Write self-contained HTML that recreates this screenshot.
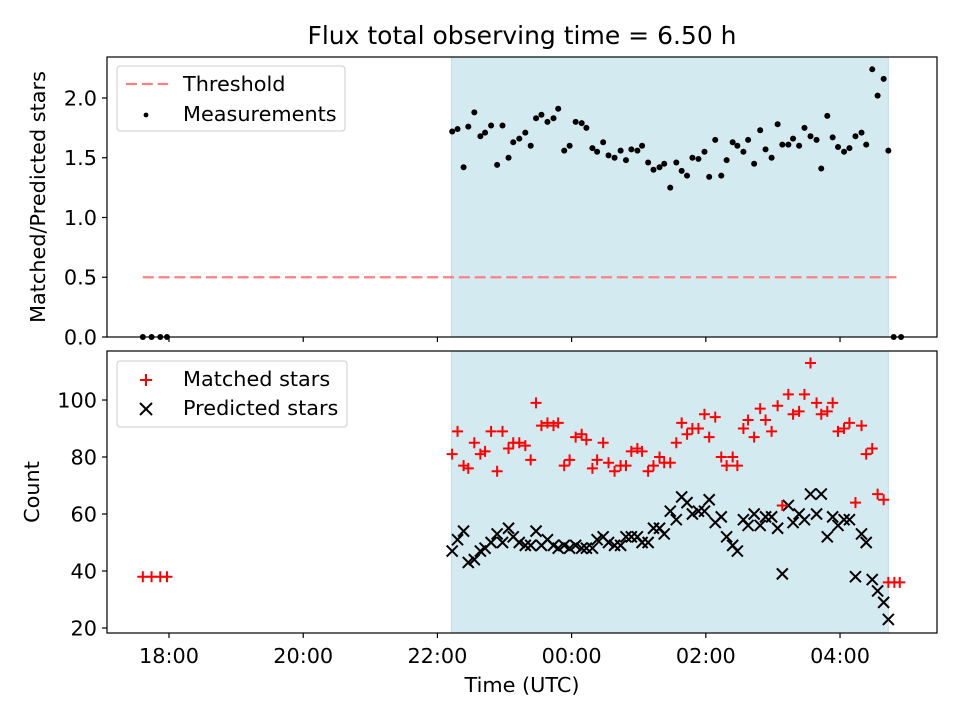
<!DOCTYPE html>
<html><head><meta charset="utf-8">
<style>
body{margin:0;background:#fff;}
svg{display:block;font-family:"DejaVu Sans","Liberation Sans",sans-serif;}
</style></head>
<body>
<svg id="chart" width="960" height="720" viewBox="0 0 960 720" xmlns="http://www.w3.org/2000/svg"></svg>
<script>
// ---- data ----
const ratioTimes = [17.61,17.74,17.87,17.97,
22.22,22.30,22.39,22.46,22.55,22.64,22.71,22.80,22.89,22.97,23.06,23.13,23.22,23.31,23.39,23.47,23.55,23.64,23.73,23.80,23.89,23.97,24.06,24.15,24.22,24.31,24.38,24.47,24.55,24.64,24.73,24.81,24.89,24.98,25.05,25.14,25.22,25.31,25.38,25.47,25.56,
25.64,25.72,25.80,25.89,25.98,26.05,26.14,26.23,26.31,26.40,26.47,26.56,26.63,26.72,26.81,26.89,26.98,27.07,27.14,27.23,27.30,27.39,27.47,27.56,27.65,27.72,27.81,27.89,27.97,28.06,28.14,28.23,28.32,28.39,28.48,28.56,28.65,28.72,28.80,28.91];
const ratioValues = [0,0,0,0,
1.72,1.74,1.42,1.76,1.88,1.68,1.71,1.77,1.44,1.77,1.50,1.63,1.66,1.71,1.60,1.83,1.86,1.80,1.83,1.91,1.56,1.60,1.80,1.79,1.75,1.58,1.55,1.63,1.52,1.50,1.56,1.48,1.57,1.56,1.60,1.46,1.40,1.42,1.45,1.25,1.46,
1.39,1.35,1.50,1.49,1.55,1.34,1.65,1.35,1.48,1.63,1.60,1.55,1.65,1.45,1.73,1.57,1.50,1.78,1.61,1.61,1.66,1.60,1.75,1.68,1.65,1.41,1.85,1.67,1.59,1.55,1.58,1.68,1.71,1.61,2.24,2.02,2.16,1.56,0,0];
const matchedTimes = [17.61,17.74,17.87,17.97,
22.22,22.30,22.39,22.46,22.55,22.64,22.71,22.80,22.89,22.97,23.06,23.13,23.22,23.31,23.39,23.47,23.55,23.64,23.73,23.80,23.89,23.97,24.06,24.15,24.22,24.31,24.38,24.47,24.55,24.64,24.73,24.81,24.89,24.98,25.05,25.14,25.22,25.31,25.38,25.47,25.56,
25.64,25.72,25.80,25.89,25.98,26.05,26.14,26.23,26.31,26.40,26.47,26.56,26.63,26.72,26.81,26.89,26.98,27.07,27.14,27.23,27.30,27.39,27.47,27.56,27.65,27.72,27.81,27.89,27.97,28.06,28.14,28.23,28.32,28.39,28.48,28.56,28.65,28.72,28.81,28.89];
const matchedValues = [38,38,38,38,
81,89,77,76,85,81,82,89,75,89,83,85,85,84,79,99,91,92,91,92,77,79,87,88,86,76,79,85,78,75,77,77,82,83,82,75,77,80,78,78,85,
92,88,90,90,95,87,94,80,77,80,77,90,93,87,97,93,89,98,63,102,95,96,102,113,99,95,96,99,89,90,92,64,91,81,83,67,65,36,36,36];
const predictedTimes = [22.22,22.30,22.39,22.46,22.55,22.64,22.71,22.80,22.89,22.97,23.06,23.13,23.22,23.31,23.39,23.47,23.55,23.64,23.73,23.80,23.89,23.97,24.06,24.15,24.22,24.31,24.38,24.47,24.55,24.64,24.73,24.81,24.89,24.98,25.05,25.14,25.22,25.31,25.38,25.47,25.56,
25.64,25.72,25.80,25.89,25.98,26.05,26.14,26.23,26.31,26.40,26.47,26.56,26.63,26.72,26.81,26.89,26.98,27.07,27.14,27.23,27.30,27.39,27.47,27.56,27.65,27.72,27.81,27.89,27.97,28.06,28.14,28.23,28.32,28.39,28.48,28.56,28.65,28.72];
const predictedValues = [47,51,54,43,44,47,48,50,53,50,55,52,50,49,49,54,49,51,49,48,49,48,49,48,48,48,51,52,50,49,49,52,52,52,50,50,55,55,53,61,58,
66,64,60,61,61,65,57,59,52,49,47,58,56,60,56,59,59,55,39,63,57,60,58,67,60,67,52,59,56,58,58,38,53,50,37,33,29,23];
const xTickHours = [18,20,22,24,26,28];
const xTickLabels = ["18:00","20:00","22:00","00:00","02:00","04:00"];
const topTicks = [0.0,0.5,1.0,1.5,2.0];
const bottomTicks = [20,40,60,80,100];
const observeStart = 22.21, observeEnd = 28.72;
const threshold = 0.5, thresholdStart = 17.61, thresholdEnd = 28.91;

// ---- layout ----
const L=107,R=937, T1=57,B1=337, T2=351,B2=633;
const FS=20.8;
const xMin=17.076,xMax=29.445;
const X=h=>L+(h-xMin)/(xMax-xMin)*(R-L);
const Y1=v=>B1-(v-0)/(2.343-0)*(B1-T1);
const Y2=v=>B2-(v-18.25)/(117.2-18.25)*(B2-T2);
const svg=document.getElementById('chart');
const NS='http://www.w3.org/2000/svg';
function mk(tag,attrs,parent){const e=document.createElementNS(NS,tag);for(const k in attrs)e.setAttribute(k,attrs[k]);(parent||svg).appendChild(e);return e;}
function txt(s,attrs,parent){const e=mk('text',attrs,parent);e.textContent=s;return e;}

const title=txt('Flux total observing time = 6.50 h',{x:522,y:44,'font-size':25,'text-anchor':'middle',fill:'#000'});



function panel(T,B,Y,ticks,fmt,name){
  const g=mk('g',{});
  
  
  const sh=mk('rect',{x:X(observeStart),y:T,width:X(observeEnd)-X(observeStart),height:B-T,fill:'#d4eaf1',stroke:'#bfdde6','stroke-width':1},g);
  
  
  ticks.forEach(t=>{
    const y=Y(t);
    mk('line',{x1:L-5,x2:L,y1:y,y2:y,stroke:'#000','stroke-width':1.2},g);
    const lb=txt(fmt(t),{x:L-10,y:y+7.5,'font-size':FS,'text-anchor':'end'},g);
    
    
  });
  xTickHours.forEach(h=>{mk('line',{x1:X(h),x2:X(h),y1:B,y2:B+5,stroke:'#000','stroke-width':1.2},g);});
  return g;
}
const g1=panel(T1,B1,Y1,topTicks,t=>t.toFixed(1),'ratio-panel');
const g2=panel(T2,B2,Y2,bottomTicks,t=>String(t),'count-panel');

const th=mk('line',{x1:X(thresholdStart),x2:X(thresholdEnd),y1:Y1(threshold),y2:Y1(threshold),stroke:'#ff8080','stroke-width':2.2,'stroke-dasharray':'11,4.8'},g1);


ratioTimes.forEach((t,i)=>{
  const c=mk('circle',{cx:X(t),cy:Y1(ratioValues[i]),r:3,fill:'#000'},g1);
  
  
});
predictedTimes.forEach((t,i)=>{
  const x=X(t),y=Y2(predictedValues[i]),s=5.5;
  const p=mk('path',{d:`M${x-s},${y-s}L${x+s},${y+s}M${x-s},${y+s}L${x+s},${y-s}`,stroke:'#000','stroke-width':2},g2);
  
  
});
matchedTimes.forEach((t,i)=>{
  const x=X(t),y=Y2(matchedValues[i]),s=5.5;
  const p=mk('path',{d:`M${x-s},${y}L${x+s},${y}M${x},${y-s}L${x},${y+s}`,stroke:'#ff0000','stroke-width':2},g2);
  
  
});
[[T1,B1],[T2,B2]].forEach(([T,B])=>{
  const f=mk('rect',{x:L,y:T,width:R-L,height:B-T,fill:'none',stroke:'#000','stroke-width':1.2});
  
  
});
xTickHours.forEach((h,i)=>{
  const lb=txt(xTickLabels[i],{x:X(h),y:663,'font-size':FS,'text-anchor':'middle'});
  
  
});
const xl=txt('Time (UTC)',{x:522,y:692,'font-size':FS,'text-anchor':'middle'});


const yl1=txt('Matched/Predicted stars',{x:0,y:0,'font-size':FS,'text-anchor':'middle',transform:`translate(45,${(T1+B1)/2}) rotate(-90)`});


const yl2=txt('Count',{x:0,y:0,'font-size':FS,'text-anchor':'middle',transform:`translate(39,${(T2+B2)/2}) rotate(-90)`});



const lg1=mk('g',{});


mk('rect',{x:117,y:66,width:228,height:65,rx:3,fill:'#fff','fill-opacity':0.8,stroke:'#ccc'},lg1);
mk('line',{x1:126,x2:168,y1:84,y2:84,stroke:'#ff8080','stroke-width':2.2,'stroke-dasharray':'11,4.8'},lg1);
txt('Threshold',{x:183,y:91,'font-size':FS},lg1);
mk('circle',{cx:146,cy:115,r:2.4,fill:'#000'},lg1);
txt('Measurements',{x:183,y:121,'font-size':FS},lg1);

const lg2=mk('g',{});


mk('rect',{x:117,y:361,width:230,height:66,rx:3,fill:'#fff','fill-opacity':0.8,stroke:'#ccc'},lg2);
mk('path',{d:'M140,380L152,380M146,374L146,386',stroke:'#ff0000','stroke-width':2},lg2);
txt('Matched stars',{x:183,y:386,'font-size':FS},lg2);
mk('path',{d:'M140,403L152,415M140,415L152,403',stroke:'#000','stroke-width':2},lg2);
txt('Predicted stars',{x:183,y:415,'font-size':FS},lg2);
</script>
</body></html>
